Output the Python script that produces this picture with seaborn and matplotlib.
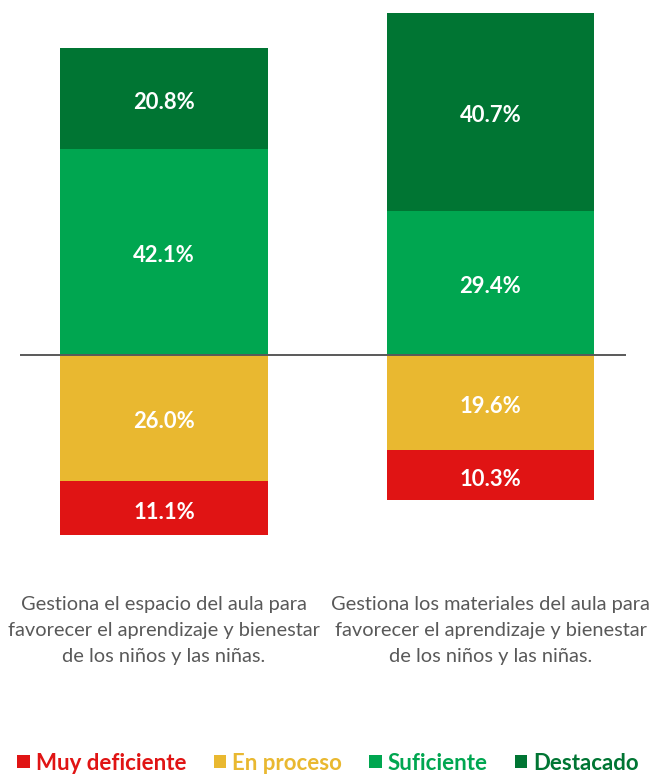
import matplotlib
matplotlib.use("Agg")
import matplotlib.pyplot as plt
import matplotlib.transforms as mtransforms
from matplotlib.patches import Patch
import seaborn as sns
import pandas as pd

sns.set_style("white")
plt.rcParams['font.family'] = ['Lato', 'DejaVu Sans']

categories = [
    "Gestiona el espacio del aula para\nfavorecer el aprendizaje y bienestar\nde los niños y las niñas.",
    "Gestiona los materiales del aula para\nfavorecer el aprendizaje y bienestar\nde los niños y las niñas.",
]
series_names = ["Muy deficiente", "En proceso", "Suficiente", "Destacado"]
muy_deficiente = [11.1, 10.3]
en_proceso = [26.0, 19.6]
suficiente = [42.1, 29.4]
destacado = [20.8, 40.7]

colors = {"Muy deficiente": "#E01414", "En proceso": "#E9B830",
          "Suficiente": "#00A650", "Destacado": "#007533"}

fig = plt.figure(figsize=(6.54, 7.74), dpi=100)
scale = 4.875  # px per percent
y_top, y_bot = 72, -40
base_px = 354.5
ax_top_px = base_px - y_top * scale
ax_bot_px = base_px - y_bot * scale
ax = fig.add_axes([20/654, 1-ax_bot_px/774, 606/654, (ax_bot_px-ax_top_px)/774])

label_trans = mtransforms.offset_copy(ax.transData, fig=fig, x=0, y=-4, units="dots")

xs = ["A", "B"]
segs = [
    ("En proceso", [-v for v in en_proceso], [0, 0]),
    ("Muy deficiente", [-v for v in muy_deficiente], [-v for v in en_proceso]),
    ("Suficiente", suficiente, [0, 0]),
    ("Destacado", destacado, suficiente),
]
for name, h, b in segs:
    df = pd.DataFrame({"x": xs, "y": h})
    sns.barplot(data=df, x="x", y="y", color=colors[name], width=0.637,
                bottom=b, ax=ax, errorbar=None, saturation=1, edgecolor="none")
    vals = [abs(v) for v in h]
    for i in range(2):
        yc = b[i] + h[i] / 2
        ax.text(i, yc, f"{vals[i]:.1f}%", ha="center", va="center",
                color="white", fontsize=15.8, fontweight="bold",
                transform=label_trans)

ax.axhline(0, color="#595959", lw=1.4)
ax.set_xlim(-0.441, 1.415)
ax.set_ylim(y_bot, y_top)
ax.set_xticks([])
ax.set_yticks([])
ax.set_xlabel("")
ax.set_ylabel("")
for s in ax.spines.values():
    s.set_visible(False)

trans = mtransforms.blended_transform_factory(ax.transData, fig.transFigure)
for i, c in enumerate(categories):
    ax.text(i, 1-596/774, c, transform=trans, ha="center", va="top",
            color="#595959", fontsize=14.4, linespacing=1.65)

handles = [Patch(facecolor=colors[n], edgecolor="none") for n in series_names]
leg = fig.legend(handles, series_names, loc="center", bbox_to_anchor=(0.502, 1-763/774),
                 ncol=4, frameon=False, handlelength=0.55, handleheight=0.55,
                 handletextpad=0.28, columnspacing=1.23,
                 prop={"weight": "bold", "size": 16})
for t, n in zip(leg.get_texts(), series_names):
    t.set_color(colors[n])

fig.savefig("out.png", dpi=100)
